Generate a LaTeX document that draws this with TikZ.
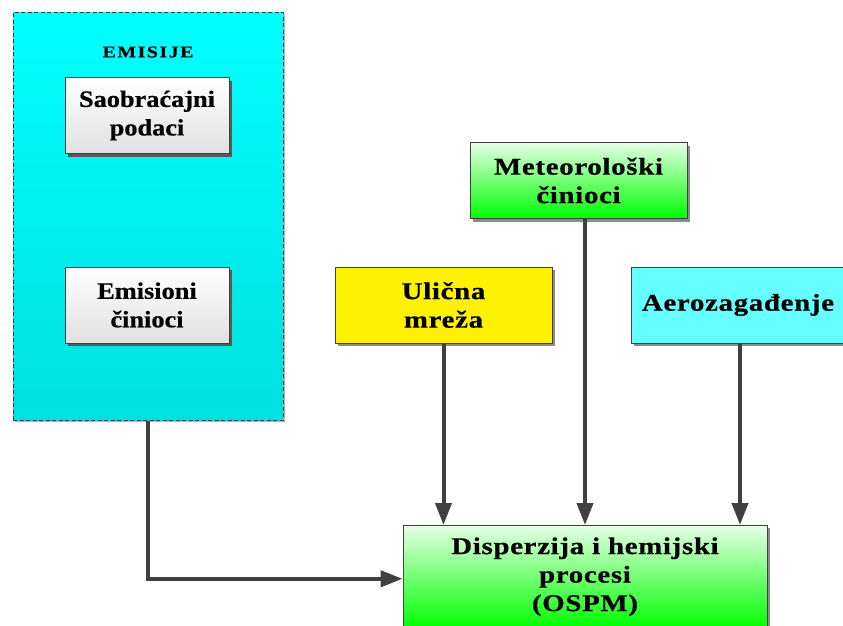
\documentclass[tikz,border=0pt]{standalone}
\usepackage{fontspec}
\setmainfont{Liberation Serif}
\usetikzlibrary{arrows.meta,positioning,shadows}

\definecolor{linegray}{HTML}{404040}
\definecolor{cyantop}{HTML}{00FFFF}
\definecolor{cyanbot}{HTML}{00E0E0}
\definecolor{greentop}{HTML}{E6FFE6}
\definecolor{greenbot}{HTML}{00FF00}
\definecolor{lightcyan}{HTML}{66FFFF}

\begin{document}
\begin{tikzpicture}[
    x=1pt, y=-1pt,
    box/.style={rectangle, draw=linegray, line width=0.8pt, align=center, inner sep=2pt,
        font=\bfseries\fontsize{24}{28.5}\selectfont\addfontfeatures{FakeStretch=1.2,LetterSpace=3,FakeBold=0.6},
        drop shadow={shadow xshift=3pt, shadow yshift=-3pt, fill=black!45, opacity=1}},
    whitebox/.style={box, minimum width=164pt, minimum height=76pt, top color=white, bottom color=black!12,
        font=\bfseries\fontsize{23.5}{28.5}\selectfont\addfontfeatures{FakeStretch=1.12,FakeBold=0.6},
        drop shadow={shadow xshift=3pt, shadow yshift=-3pt, fill=black!65, opacity=1}},
    greenbox/.style={box, top color=greentop, bottom color=greenbot},
    group/.style={rectangle, draw=linegray, dash pattern=on 4pt off 2.5pt, line width=1pt, top color=cyantop, bottom color=cyanbot,
        minimum width=270pt, minimum height=408pt,
        drop shadow={shadow xshift=2pt, shadow yshift=-2pt, fill=black!30, opacity=1}},
    arrow/.style={-{Triangle[length=22pt,width=16pt]}, draw=linegray, line width=4pt}
]
\useasboundingbox (0,0) rectangle (843,625);
\clip (0,0) rectangle (843,625);

% Emission group
\node[group] (emis) at (148,216) {};
\node[font=\bfseries\fontsize{16.6}{19}\selectfont\addfontfeatures{FakeStretch=1.2,LetterSpace=9,FakeBold=0.5}] (emislabel) at (148,52) {EMISIJE};
\node[whitebox] (traffic) at (147,115.5) {Saobraćajni\\podaci};
\node[whitebox] (emfactors) at (147,305) {Emisioni\\činioci};

% Input factors
\node[greenbox, minimum width=217pt, minimum height=76pt] (meteo) at (578.5,180.5) {Meteorološki\\činioci};
\node[box, fill=yellow, minimum width=217pt, minimum height=76pt] (street) at (443.5,305) {Ulična\\mreža};
\node[box, fill=lightcyan, minimum width=214pt, minimum height=76pt] (pollution) at (738,305) {Aerozagađenje};

% Model
\node[greenbox, minimum width=364pt, inner ysep=12pt, anchor=north] (disp) at (585,525) {Disperzija i hemijski\\procesi\\(OSPM)};

% Arrows
\draw[arrow] (emis.south) |- ([yshift=-2pt]disp.west);
\draw[arrow] (street.south) -- (street.south |- disp.north);
\draw[arrow] (disp.north |- meteo.south) -- (disp.north);
\draw[arrow] ([xshift=2pt]pollution.south) -- ([xshift=2pt]pollution.south |- disp.north);

\end{tikzpicture}
\end{document}
